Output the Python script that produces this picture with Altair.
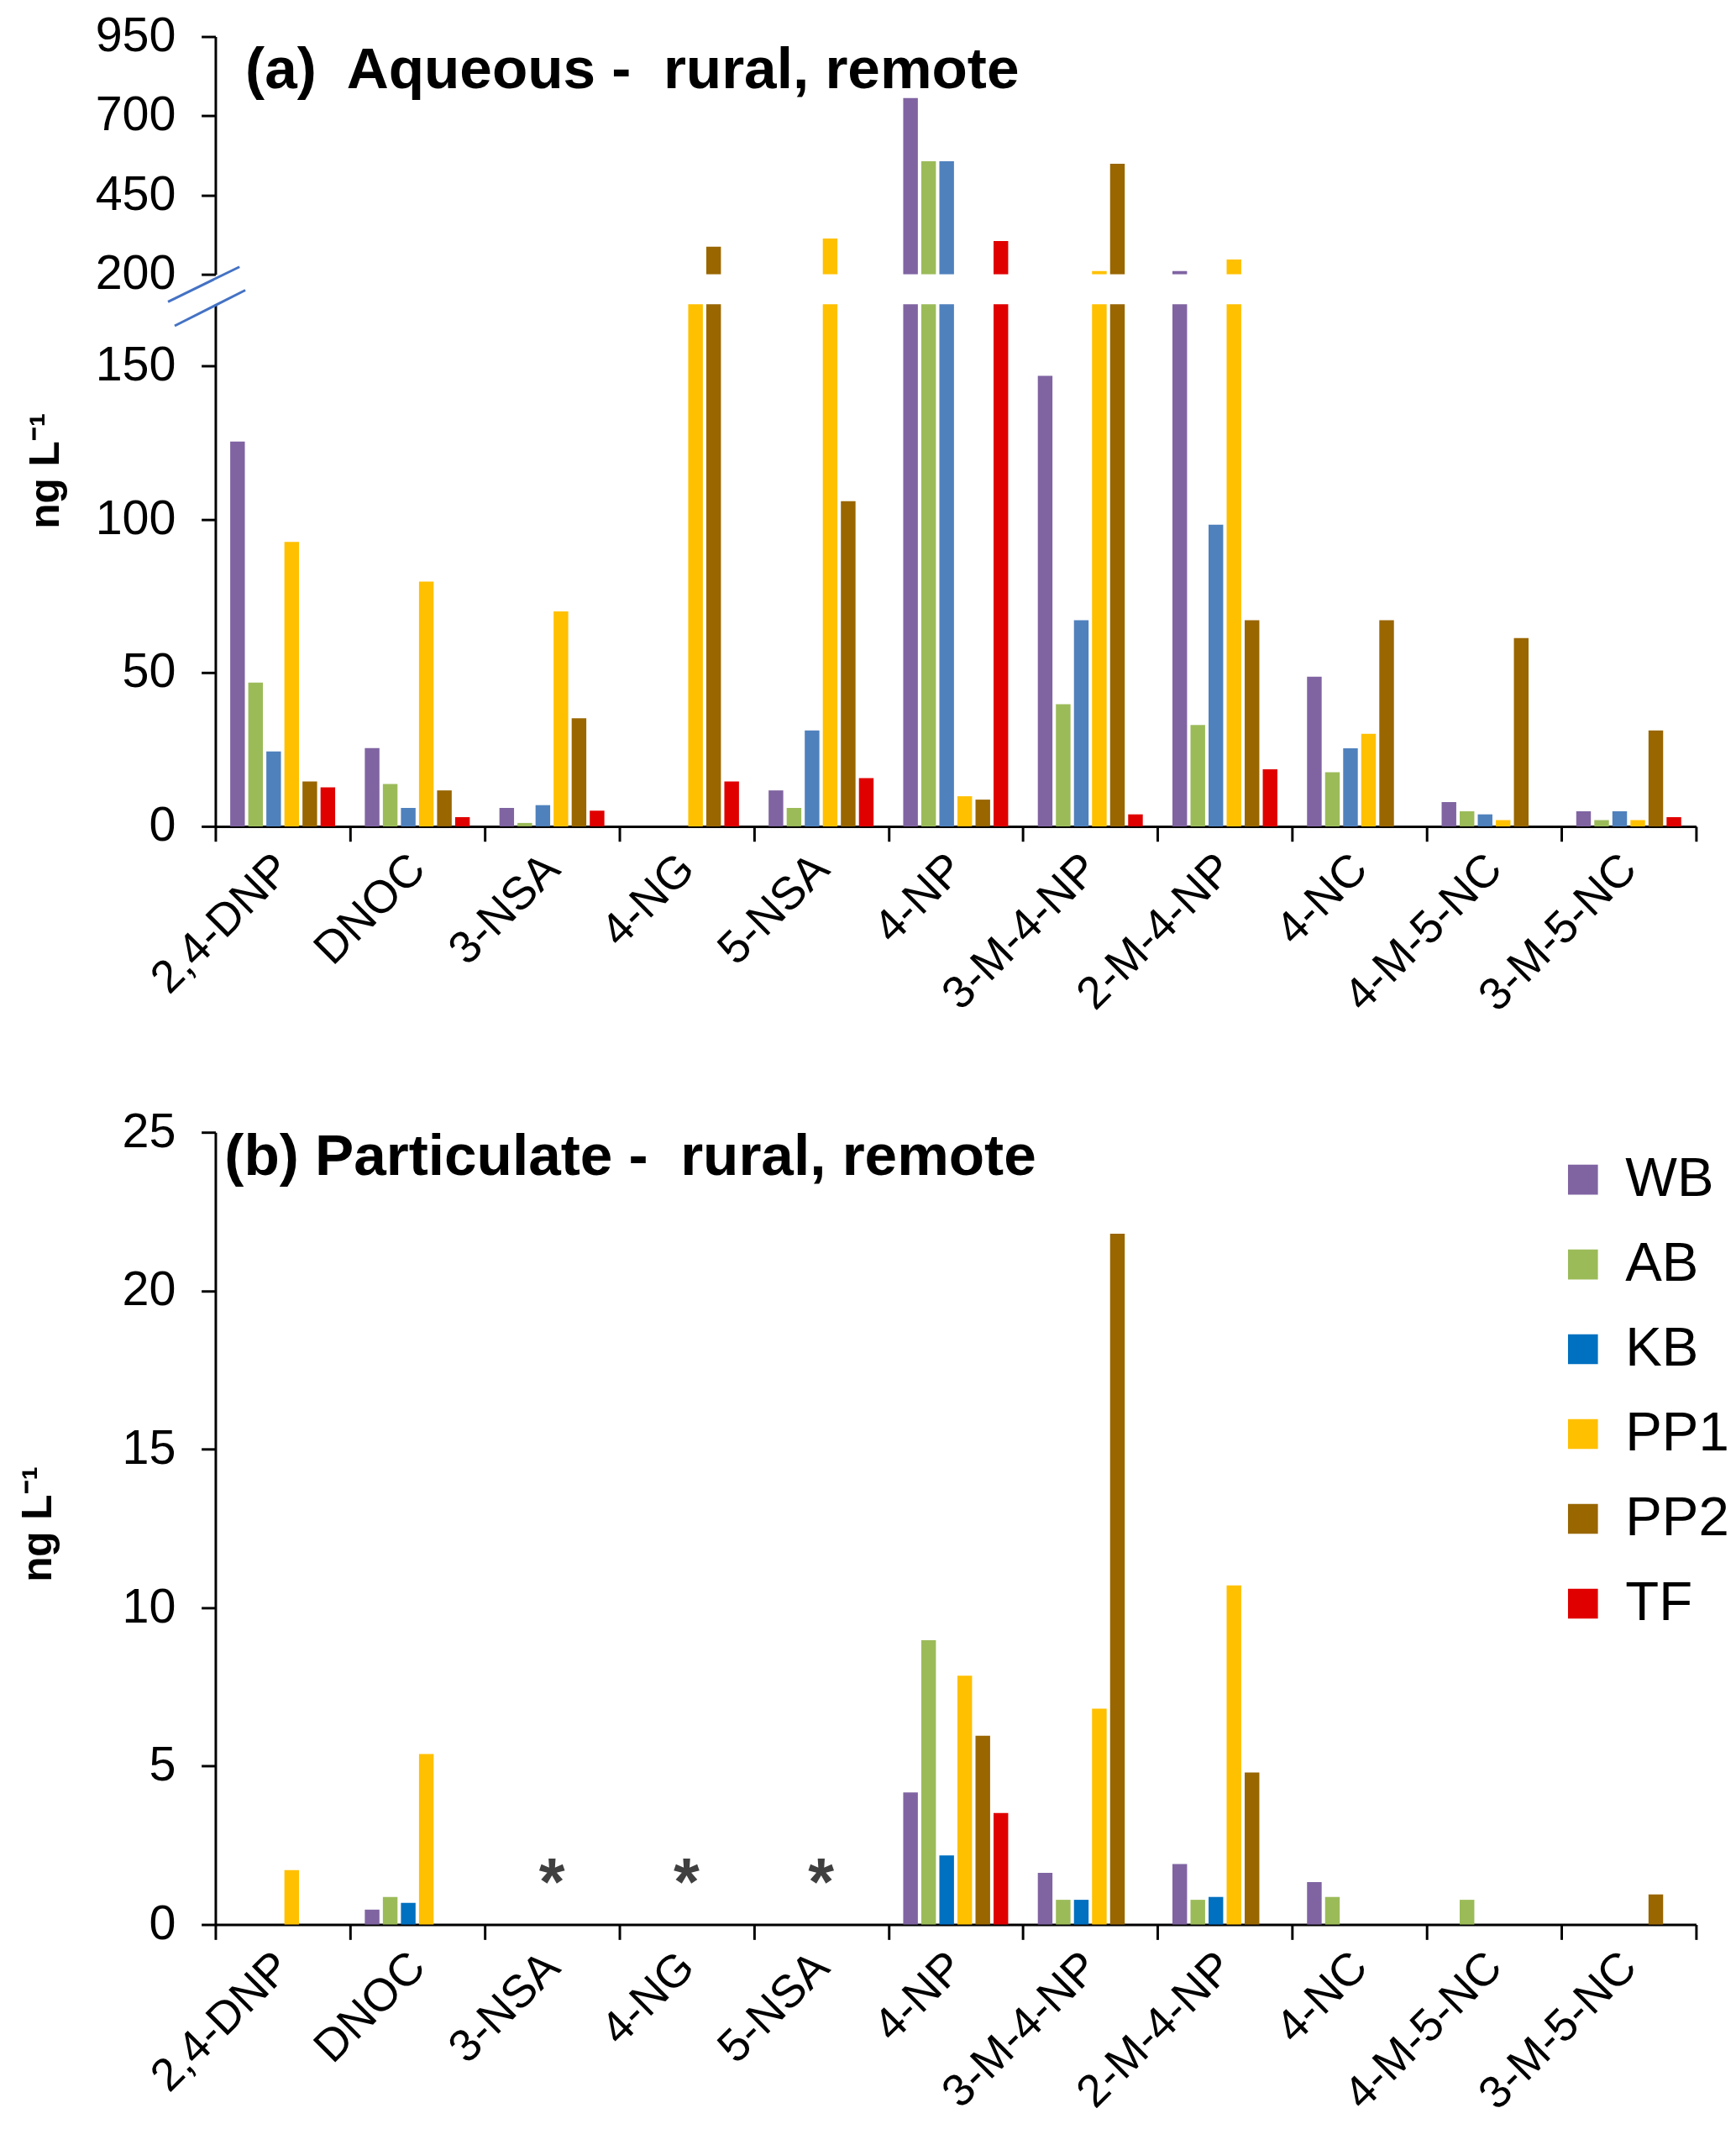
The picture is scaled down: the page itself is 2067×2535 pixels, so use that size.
import pandas as pd
import altair as alt

FONT = "Liberation Sans"

compounds = ["2,4-DNP", "DNOC", "3-NSA", "4-NG", "5-NSA", "4-NP",
             "3-M-4-NP", "2-M-4-NP", "4-NC", "4-M-5-NC", "3-M-5-NC"]
sites = ["WB", "AB", "KB", "PP1", "PP2", "TF"]

# (a) aqueous phase, ng/L
aq_wb = [125.3, 25.5, 6.0, 0, 11.7, 756, 146.7, 210, 48.7, 7.9, 4.9]
aq_ab = [46.8, 13.8, 1.1, 0, 6.0, 557, 39.8, 33.0, 17.6, 4.9, 2.0]
aq_kb = [24.4, 6.0, 6.9, 0, 31.2, 557, 67.1, 98.2, 25.4, 3.9, 4.9]
aq_pp1 = [92.6, 79.7, 70.0, 190, 313, 9.8, 210, 247, 30.1, 2.0, 2.0]
aq_pp2 = [14.6, 11.7, 35.2, 287, 105.9, 8.7, 549, 67.1, 67.1, 61.3, 31.2]
aq_tf = [12.7, 3.0, 5.1, 14.6, 15.7, 305, 3.9, 18.6, 0, 0, 3.0]

# (b) particulate phase, ng/L (None = not measured, marked with *)
pm_wb = [0, 0.47, None, None, None, 4.17, 1.63, 1.91, 1.34, 0, 0]
pm_ab = [0, 0.87, None, None, None, 8.97, 0.78, 0.78, 0.87, 0.78, 0]
pm_kb = [0, 0.68, None, None, None, 2.18, 0.78, 0.87, 0, 0, 0]
pm_pp1 = [1.72, 5.38, None, None, None, 7.85, 6.81, 10.7, 0, 0, 0]
pm_pp2 = [0, 0, None, None, None, 5.96, 21.8, 4.80, 0, 0, 0.95]
pm_tf = [0, 0, None, None, None, 3.52, 0, 0, 0, 0, 0]

star_cmp = ["3-NSA", "4-NG", "5-NSA"]
star_v = [2, 2, 2]

colors_a = ["#8064A2", "#9BBB59", "#4F81BD", "#FFC000", "#996600", "#E00000"]
colors_b = ["#8064A2", "#9BBB59", "#0070C0", "#FFC000", "#996600", "#E00000"]

title_a = "(a)\u00a0 Aqueous -\u00a0 rural, remote"
title_b = "(b)\u00a0Particulate -\u00a0 rural, remote"
y_title = "ng L\u207b\u00b9"


def to_long(series):
    rows = []
    for s, vals in zip(sites, series):
        for c, v in zip(compounds, vals):
            rows.append({"cmp": c, "site": s, "v": v})
    return pd.DataFrame(rows)


aq = to_long([aq_wb, aq_ab, aq_kb, aq_pp1, aq_pp2, aq_tf])
pm = to_long([pm_wb, pm_ab, pm_kb, pm_pp1, pm_pp2, pm_tf])
stars = pd.DataFrame({"cmp": star_cmp, "v": star_v})

W = 1781

x_axis = alt.Axis(title=None, labelAngle=-45, labelAlign="right", labelBaseline="middle",
                  tickBand="extent", tickSize=18, labelPadding=24, labelLimit=600,
                  labelFontSize=55)


def xenc(axis):
    return alt.X("cmp:N", sort=compounds, axis=axis,
                 scale=alt.Scale(domain=compounds, paddingInner=0, paddingOuter=0))


xoff = alt.XOffset("site:N", sort=sites,
                   scale=alt.Scale(domain=sites, paddingInner=0.19, paddingOuter=0.82))

# --- (a) upper part of broken axis
top_bars = alt.Chart(aq).transform_filter("datum.v > 200").mark_bar(clip=True).encode(
    x=xenc(None),
    xOffset=xoff,
    y=alt.Y("v:Q", scale=alt.Scale(domain=[200, 950], nice=False),
            axis=alt.Axis(values=[200, 450, 700, 950], title=None)),
    y2=alt.datum(200),
    color=alt.Color("site:N", sort=sites, scale=alt.Scale(domain=sites, range=colors_a), legend=None),
)
top_title = alt.Chart(pd.DataFrame({"t": [title_a]})).mark_text(
    align="left", baseline="alphabetic", fontSize=70, fontWeight="bold", font=FONT, color="black"
).encode(text="t:N", x=alt.value(36), y=alt.value(62))
a_top = alt.layer(top_bars, top_title).properties(width=W, height=286)

# --- (a) lower part
low_bars = alt.Chart(aq).mark_bar(clip=True).encode(
    x=xenc(x_axis),
    xOffset=xoff,
    y=alt.Y("v:Q", scale=alt.Scale(domain=[0, 170], nice=False),
            axis=alt.Axis(values=[0, 50, 100, 150], title=y_title, titleX=-204, titleY=200,
                          titleAngle=270, titleAlign="center", titleBaseline="middle")),
    color=alt.Color("site:N", sort=sites, scale=alt.Scale(domain=sites, range=colors_a), legend=None),
)
dummy = pd.DataFrame({"k": [0]})
brk1 = alt.Chart(dummy).mark_rule(color="#4472C4", strokeWidth=3).encode(
    x=alt.value(-57), x2=alt.value(29), y=alt.value(-3), y2=alt.value(-45))
brk2 = alt.Chart(dummy).mark_rule(color="#4472C4", strokeWidth=3).encode(
    x=alt.value(-49), x2=alt.value(36), y=alt.value(26), y2=alt.value(-17))
a_bottom = alt.layer(low_bars, brk1, brk2).properties(width=W, height=628)

panel_a = alt.vconcat(a_top, a_bottom, spacing=36, bounds="flush")

# --- (b) particulate
y_b = alt.Y("v:Q", scale=alt.Scale(domain=[0, 25], nice=False),
            axis=alt.Axis(values=[0, 5, 10, 15, 20, 25], title=y_title, titleX=-213, titleY=471,
                          titleAngle=270, titleAlign="center", titleBaseline="middle"))
b_bars = alt.Chart(pm).mark_bar().encode(
    x=xenc(x_axis),
    xOffset=xoff,
    y=y_b,
    color=alt.Color("site:N", sort=sites, scale=alt.Scale(domain=sites, range=colors_b),
                    legend=alt.Legend(orient="none", legendX=1612, legendY=24, title=None,
                                      symbolType="square", symbolSize=1296, symbolStrokeWidth=0,
                                      labelFontSize=66, labelFont=FONT, labelColor="black",
                                      labelOffset=18, rowPadding=36, padding=0)),
)
b_stars = alt.Chart(stars).mark_text(
    text="*", fontSize=80, fontWeight="bold", font=FONT, color="#404040", dy=28
).encode(x=xenc(x_axis), y=y_b)
b_title = alt.Chart(pd.DataFrame({"t": [title_b]})).mark_text(
    align="left", baseline="alphabetic", fontSize=70, fontWeight="bold", font=FONT, color="black"
).encode(text="t:N", x=alt.value(11), y=alt.value(51))
panel_b = alt.layer(b_bars, b_stars, b_title).properties(width=W, height=953)

chart = alt.vconcat(panel_a, panel_b, spacing=106).resolve_scale(
    color="independent"
).properties(
    padding={"left": 13, "top": -6, "right": 0, "bottom": -5}
).configure_view(stroke=None).configure_axis(
    labelFont=FONT, titleFont=FONT, labelFontSize=58, labelColor="black",
    domainColor="black", domainWidth=3, tickColor="black", tickWidth=3, grid=False,
    titleFontSize=50, titleFontWeight="bold", titleColor="black",
).configure_axisY(tickSize=17, labelPadding=31)

chart.save("out.html", embed_options={"renderer": "svg", "actions": False})
